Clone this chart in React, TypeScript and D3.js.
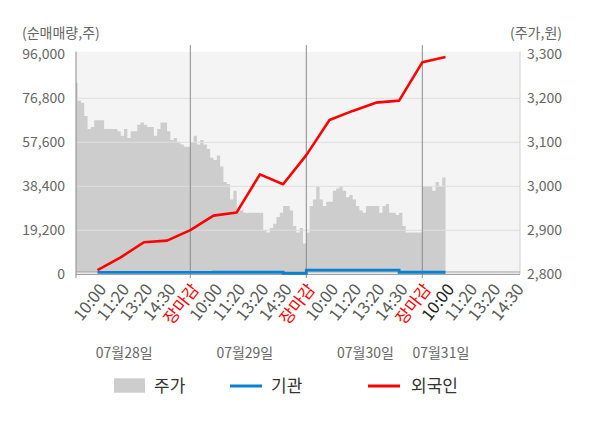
import React from 'react';
import * as d3 from 'd3';

// 일자
const days = ['07월28일', '07월29일', '07월30일', '07월31일'];
// 하루 안의 시간 눈금
const slotLabels = ['10:00', '11:20', '13:20', '14:30', '장마감'];

// 주가 (하루를 35구간으로 나눈 값)
const price28 = [3235, 3195, 3190, 3160, 3130, 3135, 3150, 3150, 3150, 3130, 3130, 3130, 3130, 3125, 3115, 3130, 3110, 3125, 3125, 3140, 3145, 3140, 3135, 3135, 3115, 3130, 3145, 3145, 3125, 3105, 3110, 3100, 3095, 3090, 3090];
const price29 = [3100, 3115, 3095, 3105, 3095, 3085, 3065, 3060, 3070, 3045, 3010, 3005, 2970, 2990, 2950, 2945, 2940, 2940, 2940, 2940, 2940, 2940, 2900, 2895, 2905, 2915, 2930, 2940, 2955, 2955, 2945, 2910, 2895, 2905, 2870];
const price30 = [2895, 2955, 2970, 3000, 2970, 2955, 2965, 2965, 2990, 2995, 3000, 2990, 2975, 2980, 2970, 2955, 2945, 2940, 2955, 2955, 2955, 2955, 2940, 2955, 2960, 2940, 2940, 2935, 2940, 2910, 2895, 2895, 2895, 2895, 2895];
const price31 = [3000, 3000, 3000, 2990, 3010, 3000, 3020];
const STEPS = 35;

// 누적 순매매량 (시간 눈금마다)
const foreign = [1800, 7400, 14000, 14700, 19300, 25600, 27000, 43600, 39300, 52000, 67300, 71300, 74900, 75800, 92500, 94800];
const institution = [800, 800, 800, 800, 800, 900, 900, 900, 400, 1800, 1800, 1800, 1800, 900, 900, 900];

const leftTicks = [0, 19200, 38400, 57600, 76800, 96000];
const rightTicks = [2800, 2900, 3000, 3100, 3200, 3300];

const FONT = '"Noto Sans CJK KR", "Noto Sans", sans-serif';

export default function App() {
  const W = 600, H = 428;
  const plot = { left: 76, right: 520, top: 51.7, bottom: 272 };

  const x = d3.scaleLinear().domain([0, 4]).range([74.3, 538.3]);
  const yL = d3.scaleLinear().domain([0, 96000]).range([274.3, 54.3]);
  const yR = d3.scaleLinear().domain([2800, 3300]).range([274.3, 54.3]);

  const priceDays = [price28, price29, price30, price31];
  const pricePts = priceDays.flatMap((arr, d) => arr.map((v, i) => ({ t: d + i / STEPS, v })));
  pricePts.push({ t: 3 + price31.length / STEPS, v: price31[price31.length - 1] });

  const area = d3.area<{ t: number; v: number }>()
    .x(d => x(d.t))
    .y0(plot.bottom)
    .y1(d => yR(d.v))
    .curve(d3.curveStepAfter);

  const slotT = foreign.map((_, i) => Math.floor(i / 5) + ((i % 5) + 1) / 5);
  const redPath = d3.line<number>()
    .x((_, i) => x(slotT[i]))
    .y(v => yL(v))(foreign) ?? '';
  const bluePath = d3.line<number>()
    .x((_, i) => x(slotT[i]))
    .y(v => yL(v))
    .curve(d3.curveStepAfter)(institution) ?? '';

  const ticks = days.flatMap((_, d) => slotLabels.map((lab, k) => ({ t: d + (k + 1) / 5, lab, d, k })))
    .filter(tk => x(tk.t) <= plot.right);

  const dateAt = [0.43, 1.47, 2.51, 3.16];

  return (
    <div style={{ position: 'absolute', left: 0, top: 0 }}>
      <svg width={W} height={H} style={{ display: 'block', fontFamily: FONT }}>
        <defs>
          <clipPath id="plot">
            <rect x={plot.left} y={plot.top} width={plot.right - plot.left} height={plot.bottom - plot.top + 3} />
          </clipPath>
        </defs>
        <rect width={W} height={H} fill="#ffffff" />
        <rect x={plot.left} y={plot.top} width={plot.right - plot.left} height={plot.bottom - plot.top} fill="#f4f4f4" />

        <g clipPath="url(#plot)">
          <path d={area(pricePts) ?? ''} fill="#cdcdcd" />
        </g>

        {leftTicks.slice(1, -1).map(v => (
          <line key={v} x1={plot.left} x2={plot.right} y1={yL(v)} y2={yL(v)} stroke="#dedede" strokeWidth={1} />
        ))}

        {[1, 2, 3].map(d => (
          <line key={d} x1={x(d)} x2={x(d)} y1={45} y2={278} stroke="#8a8a8a" strokeWidth={1} />
        ))}
        <line x1={plot.left} x2={plot.left} y1={plot.top} y2={278} stroke="#8a8a8a" strokeWidth={1} />
        <line x1={plot.right} x2={plot.right} y1={plot.top} y2={274.3} stroke="#d0d0d0" strokeWidth={1} />
        <line x1={plot.left} x2={plot.right} y1={plot.bottom} y2={plot.bottom} stroke="#9a9a9a" strokeWidth={1} />
        <line x1={plot.left} x2={plot.right} y1={274.3} y2={274.3} stroke="#8a8a8a" strokeWidth={1} />

        <g clipPath="url(#plot)">
          <path d={bluePath} fill="none" stroke="#0a80d0" strokeWidth={2.8} />
          <path d={redPath} fill="none" stroke="#ff0000" strokeWidth={2.6} strokeLinejoin="round" />
        </g>

        {leftTicks.map(v => (
          <text key={v} x={65} y={yL(v)} dy="0.35em" textAnchor="end" fontSize={14} fill="#666">
            {d3.format(',')(v)}
          </text>
        ))}
        {rightTicks.map(v => (
          <text key={v} x={527} y={yR(v)} dy="0.35em" textAnchor="start" fontSize={14} fill="#666">
            {d3.format(',')(v)}
          </text>
        ))}
        <text x={22} y={33} dy="0.35em" fontSize={14} fill="#666">(순매매량,주)</text>
        <text x={562} y={33} dy="0.35em" textAnchor="end" fontSize={14} fill="#666">(주가,원)</text>

        {ticks.map(tk => (
          <text
            key={`${tk.d}-${tk.k}`}
            transform={`translate(${x(tk.t) + 5},${286}) rotate(-52)`}
            textAnchor="end"
            dy="0.35em"
            fontSize={16.5}
            fill={tk.k === 4 ? '#ff0000' : tk.d === 3 && tk.k === 0 ? '#222' : '#5a5a5a'}
          >
            {tk.lab}
          </text>
        ))}

        {days.map((dl, d) => (
          <text key={dl} x={x(dateAt[d])} y={353} dy="0.35em" textAnchor="middle" fontSize={14} fill="#666">
            {dl}
          </text>
        ))}

        <g fontSize={17} fill="#333">
          <rect x={114} y={378.3} width={31} height={14.4} fill="#cdcdcd" />
          <text x={154} y={386} dy="0.35em">주가</text>
          <line x1={230} x2={262} y1={386} y2={386} stroke="#0a80d0" strokeWidth={3} />
          <text x={271} y={386} dy="0.35em">기관</text>
          <line x1={368} x2={400} y1={386} y2={386} stroke="#ff0000" strokeWidth={3} />
          <text x={411} y={386} dy="0.35em">외국인</text>
        </g>
      </svg>
    </div>
  );
}
